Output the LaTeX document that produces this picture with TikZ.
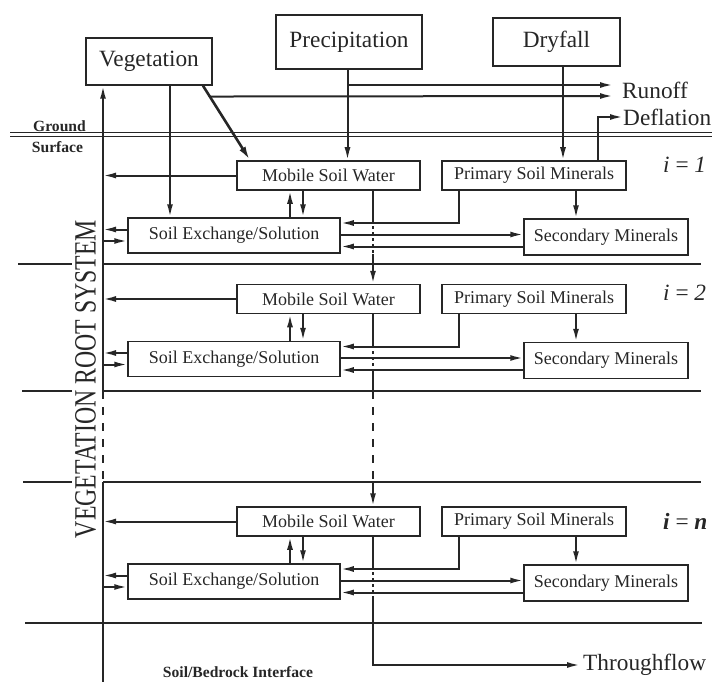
\documentclass[tikz,border=0pt]{standalone}
\usepackage{fontspec}
\setmainfont{Liberation Serif}
\usetikzlibrary{arrows.meta,calc}
\begin{document}
\begin{tikzpicture}[x=1pt,y=-1pt,
  box/.style={draw=black!85, line width=1.5pt, inner sep=0pt, text=black!85,
              font=\fontsize{18}{20}\selectfont},
  bigbox/.style={box, font=\fontsize{23.3}{26}\selectfont},
  flow/.style={draw=black!85, line width=2pt, -{Latex[length=13pt,width=6pt]}},
  plain/.style={draw=black!85, line width=1.8pt},
  gap/.style={plain, dash pattern=on 3pt off 3pt},
  longdash/.style={plain, dash pattern=on 8pt off 8pt},
  sep/.style={draw=black!85, line width=1.3pt},
  note/.style={font=\bfseries\fontsize{15.6}{17}\selectfont, inner sep=0pt, text=black!85},
  lbl/.style={font=\fontsize{23.3}{26}\selectfont, inner sep=0pt, anchor=west, text=black!85},
]
\useasboundingbox (0,0) rectangle (712,682);

% reference x positions of the vertical flows
\coordinate (root) at (103,0);
\coordinate (upx)  at (290,0);
\coordinate (dnx)  at (303,0);
\coordinate (psx)  at (459,0);
\coordinate (pcx)  at (576,0);
\coordinate (cx)   at (373,0);
\coordinate (px)   at (347.5,0);
\coordinate (dx)   at (563,0);
\coordinate (dfx)  at (598,0);
\coordinate (vx)   at (170,0);
\coordinate (dg1)  at (203,0);
\coordinate (dg2)  at (250,0);

% sources above ground
\node[bigbox, minimum width=126, minimum height=47] (veg)    at (149,61.5) {Vegetation};
\node[bigbox, minimum width=146, minimum height=54] (precip) at (349,42)   {Precipitation};
\node[bigbox, minimum width=127, minimum height=48] (dry)    at (556.5,42) {Dryfall};

\node[lbl] (runoff) at (622,90)  {Runoff};
\node[lbl] (defl)   at (623,117) {Deflation};
\node[lbl] (through) at (583,665) {Throughflow};

% ground surface
\coordinate (gl) at (10,134.5);
\coordinate (gr) at (712,134.5);
\draw[draw=black!85, line width=1pt, double=white, double distance=2.6pt] (gl) -- (gr);
\node[note] (ground)  at (59.5,126) {Ground};
\node[note] (surface) at (57.5,147) {Surface};

% layer boundaries
\foreach \yy/\aa in {264/18, 391/22, 482/23}{
  \draw[sep] (\aa,\yy) -- (72,\yy);
  \draw[sep] (103,\yy) -- (701,\yy);
}
\draw[sep] (25,623) -- (702,623);

\node[note] (bedrock) at (238,672) {Soil/Bedrock Interface};

\node[rotate=90, inner sep=0pt, text=black!85, font=\fontsize{23.8}{26}\selectfont] (vrs)
  at (85.5,379) {\scalebox{1}[1.3]{VEGETATION ROOT SYSTEM}};

% soil layers
\foreach \lv/\t/\ly/\lab in {
    1/161/165/{\textit{i} = \textit{1}},
    2/284.5/293/{\textit{i} = \textit{2}},
    n/507/521/{\textbf{\textit{i}} = \textbf{\textit{n}}}}{
  \node[box, minimum width=183, minimum height=29] (msw\lv)  at (328.5,\t+14.5) {Mobile Soil Water};
  \node[box, minimum width=184, minimum height=29] (prim\lv) at (534,\t+14.5)   {Primary Soil Minerals};
  \node[box, minimum width=212, minimum height=35] (se\lv)   at (234,\t+74.5)   {Soil Exchange/Solution};
  \node[box, minimum width=164, minimum height=36] (sec\lv)  at (606,\t+76)     {Secondary Minerals};
  \node[lbl] (lev\lv) at (663,\ly) {\lab};

  \draw[flow] (msw\lv.west) -- (msw\lv.west -| root);
  \draw[flow] (se\lv.north -| upx) -- (msw\lv.south -| upx);
  \draw[flow] (msw\lv.south -| dnx) -- (se\lv.north -| dnx);

  \coordinate (sa\lv) at ([yshift=6pt]se\lv.west);
  \coordinate (sb\lv) at ([yshift=-5.5pt]se\lv.west);
  \draw[flow] (sa\lv) -- (sa\lv -| root);
  \draw[flow] (sb\lv -| root) -- (sb\lv);

  \coordinate (pe\lv) at ([yshift=12.5pt]se\lv.east);
  \coordinate (ea\lv) at ([yshift=1pt]se\lv.east);
  \coordinate (eb\lv) at ([yshift=-11pt]se\lv.east);
  \draw[flow] (prim\lv.south -| psx) |- (pe\lv);
  \draw[flow] (ea\lv) -- (ea\lv -| sec\lv.west);
  \draw[flow] (eb\lv -| sec\lv.west) -- (eb\lv);
  \draw[flow] (prim\lv.south -| pcx) -- (sec\lv.north -| pcx);
}

% vegetation root system line
\coordinate (rg1) at (103,391);
\coordinate (rg2) at (103,482);
\coordinate (rend) at (103,682);
\draw[flow] (rg1) -- (veg.south -| root);
\draw[longdash] (rg1) -- (rg2);
\draw[plain] (rg2) -- (rend);

% vegetation inputs
\draw[flow] (veg.south -| vx) -- (se1.north -| vx);
\draw[draw=black!85, line width=2.6pt, -{Latex[length=14pt,width=7pt]}]
  (veg.south -| dg1) -- (msw1.north -| dg2);
\coordinate (vh) at ($(veg.south -| dg1)!11/76!(msw1.north -| dg2)$);

% precipitation, dryfall, runoff, deflation
\coordinate (pb) at (347.5,85);
\coordinate (r1) at (613,85);
\coordinate (r2) at (613,96);
\draw[flow] (precip.south -| px) -- (msw1.north -| px);
\draw[flow] (pb) -- (r1);
\draw[flow] (vh) -- (r2);
\draw[flow] (dry.south -| dx) -- (prim1.north -| dx);
\draw[flow] (prim1.north -| dfx) |- (defl.west);

% water passing down through the layers
\coordinate (k1) at (373,220);
\coordinate (k2) at (373,254);
\coordinate (k3) at (373,345);
\coordinate (k4) at (373,372);
\coordinate (k5) at (373,391);
\coordinate (k6) at (373,482);
\coordinate (k7) at (373,566);
\coordinate (k8) at (373,597);
\draw[plain] (msw1.south -| cx) -- (k1);
\draw[gap] (k1) -- (k2);
\draw[flow] (k2) -- (msw2.north -| cx);
\draw[plain] (msw2.south -| cx) -- (k3);
\draw[gap] (k3) -- (k4);
\draw[plain] (k4) -- (k5);
\draw[longdash] (k5) -- (k6);
\draw[flow] (k6) -- (mswn.north -| cx);
\draw[plain] (mswn.south -| cx) -- (k7);
\draw[gap] (k7) -- (k8);
\draw[flow] (k8) |- ([xshift=-3pt]through.west);
\end{tikzpicture}
\end{document}
